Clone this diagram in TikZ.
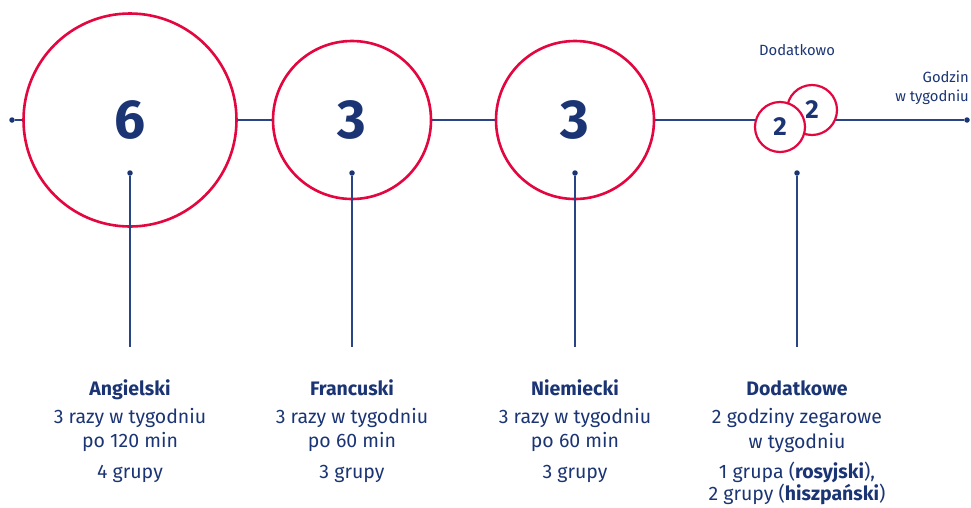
\documentclass[tikz,border=0pt]{standalone}
\usepackage{fontspec}
\setmainfont{Fira Sans}
\usetikzlibrary{backgrounds}
\definecolor{ring}{HTML}{E3063F}
\definecolor{navy}{HTML}{1B3574}
\definecolor{linec}{HTML}{2A4585}
\begin{document}
\begin{tikzpicture}[x=1pt,y=-1pt,
  bigring/.style={circle, draw=ring, line width=2.6pt, fill=white, inner sep=0pt, text=navy, font=\fontsize{55}{55}\selectfont\bfseries},
  smallring/.style={circle, draw=ring, line width=2.2pt, fill=white, inner sep=0pt, text=navy, font=\fontsize{26}{26}\selectfont\bfseries},
  dot/.style={circle, fill=navy, inner sep=0pt, minimum size=5.5pt},
  conn/.style={draw=linec, line width=1.3pt},
  body/.style={anchor=base, inner sep=0pt, text=navy, font=\fontsize{19.5}{19.5}\selectfont},
  title/.style={body, font=\fontsize{19.5}{19.5}\selectfont\bfseries},
  small/.style={inner sep=0pt, text=navy, font=\fontsize{14.8}{14.8}\selectfont}]
\useasboundingbox (0,0) rectangle (971,507);

% main timeline nodes
\node[dot] (l) at (12,120) {};
\node[dot] (r) at (967,120) {};
\node[bigring, minimum size=213pt] (c1) at (130,120) {6};
\node[bigring, minimum size=158pt] (c2) at (352,120) {3};
\node[bigring, minimum size=158pt] (c3) at (575,120) {3};
\node[smallring, minimum size=50pt] (cb) at (812,110) {2};
\node[smallring, minimum size=50pt] (ca) at (780,127) {2};

\begin{scope}[on background layer]
  \draw[conn] (l) -- (r);
\end{scope}

% vertical connectors
\foreach \i/\x in {1/130,2/352,3/575,4/797}{
  \node[dot] (d\i) at (\x,173) {};
  \coordinate (e\i) at (\x,347);
  \draw[conn] (d\i) -- (e\i);
}

% top labels
\node[small, anchor=base] (dod) at (797,55) {Dodatkowo};
\node[small, anchor=base east] (g1) at (969,82) {Godzin};
\node[small, anchor=base east] (g2) at (969,101) {w tygodniu};

% bottom texts
\node[title] (t1) at (130,395) {Angielski};
\node[body] (t1a) at (130,423) {3 razy w tygodniu};
\node[body] (t1b) at (130,447) {po 120 min};
\node[body] (t1c) at (130,478) {4 grupy};

\node[title] (t2) at (352,395) {Francuski};
\node[body] (t2a) at (352,423) {3 razy w tygodniu};
\node[body] (t2b) at (352,447) {po 60 min};
\node[body] (t2c) at (352,478) {3 grupy};

\node[title] (t3) at (575,395) {Niemiecki};
\node[body] (t3a) at (575,423) {3 razy w tygodniu};
\node[body] (t3b) at (575,447) {po 60 min};
\node[body] (t3c) at (575,478) {3 grupy};

\node[title] (t4) at (797,395) {Dodatkowe};
\node[body] (t4a) at (797,423) {2 godziny zegarowe};
\node[body] (t4b) at (797,448) {w tygodniu};
\node[body] (t4c) at (797,478) {1 grupa (\textbf{rosyjski}),};
\node[body] (t4d) at (797,500) {2 grupy (\textbf{hiszpański})};
\end{tikzpicture}
\end{document}
